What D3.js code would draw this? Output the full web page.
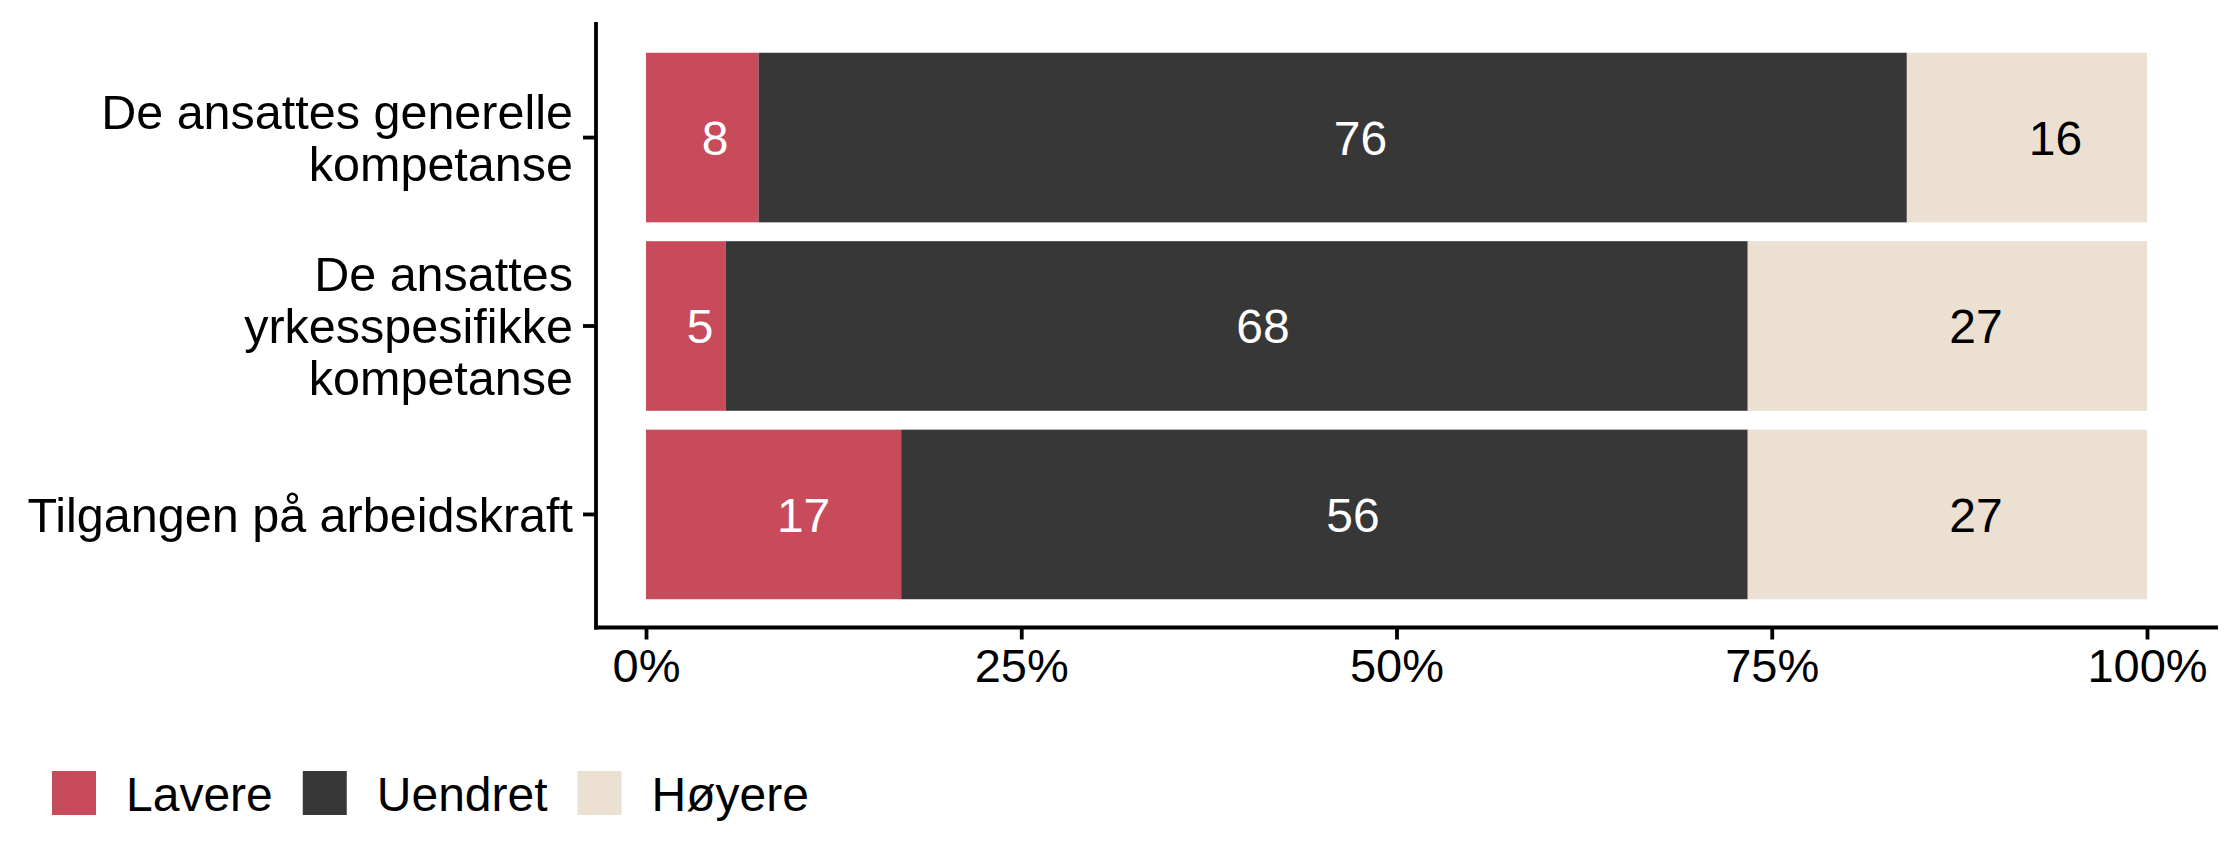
<!DOCTYPE html>
<html>
<head>
<meta charset="utf-8">
<script src="https://cdn.jsdelivr.net/npm/d3@7"></script>
<style>
  html, body { margin: 0; padding: 0; background: #ffffff; }
  svg { display: block; font-family: "Liberation Sans", Arial, Helvetica, sans-serif; }
</style>
</head>
<body>
<svg id="chart" width="2240" height="867"></svg>
<script>
// ---- Data ----
const categories = [
  "De ansattes generelle kompetanse",
  "De ansattes yrkesspesifikke kompetanse",
  "Tilgangen på arbeidskraft"
];
const categoryLines = [
  ["De ansattes generelle", "kompetanse"],
  ["De ansattes", "yrkesspesifikke", "kompetanse"],
  ["Tilgangen på arbeidskraft"]
];
const seriesNames = ["Lavere", "Uendret", "Høyere"];
const lavere  = [7.5, 5.3, 17.0];
const uendret = [76.5, 68.1, 56.4];
const hoyere  = [16.0, 26.6, 26.6];
const lavereLabels  = ["8", "5", "17"];
const uendretLabels = ["76", "68", "56"];
const hoyereLabels  = ["16", "27", "27"];
// label positions (percent)
const lavereLabelPos  = [4.6, 3.6, 10.5];
const uendretLabelPos = [47.6, 41.1, 47.1];
const hoyereLabelPos  = [93.9, 88.6, 88.6];
const xTicks = [0, 25, 50, 75, 100];
const colors = ["#C84B5B", "#373737", "#EBE0D1"];
const labelColors = ["#ffffff", "#ffffff", "#000000"];

// ---- Layout ----
const svg = d3.select("#chart");
const panel = { left: 596, right: 2218, top: 24.5, bottom: 627.5 };

const x = d3.scaleLinear().domain([0, 100]).range([646, 2147]);
const y = d3.scaleBand().domain(categories)
  .range([panel.top, panel.bottom])
  .paddingInner(0.1).paddingOuter(0.15);

const seriesVals = [lavere, uendret, hoyere];
const seriesLabels = [lavereLabels, uendretLabels, hoyereLabels];
const seriesLabelPos = [lavereLabelPos, uendretLabelPos, hoyereLabelPos];

// stacked rows
const rows = categories.map((c, i) => {
  let acc = 0;
  return seriesNames.map((s, k) => {
    const v = seriesVals[k][i];
    const seg = { cat: c, k, x0: acc, x1: acc + v, label: seriesLabels[k][i], lp: seriesLabelPos[k][i] };
    acc += v;
    return seg;
  });
}).flat();

svg.append("g").selectAll("rect").data(rows).join("rect")
  .attr("x", d => x(d.x0))
  .attr("width", d => x(d.x1) - x(d.x0))
  .attr("y", d => y(d.cat))
  .attr("height", y.bandwidth())
  .attr("fill", d => colors[d.k]);

svg.append("g").selectAll("text").data(rows).join("text")
  .attr("x", d => x(d.lp))
  .attr("y", d => y(d.cat) + y.bandwidth() / 2)
  .attr("dy", "0.36em")
  .attr("text-anchor", "middle")
  .attr("font-size", 48)
  .attr("fill", d => labelColors[d.k])
  .text(d => d.label);

// ---- Axes ----
const axisW = 3.8;
// x axis
const gx = svg.append("g").attr("transform", `translate(0,${panel.bottom})`)
  .call(d3.axisBottom(x).tickValues(xTicks).tickFormat(d => d + "%").tickSize(12).tickPadding(9));
gx.select(".domain").remove();
gx.selectAll(".tick line").attr("stroke", "#000").attr("stroke-width", axisW);
gx.selectAll(".tick text").attr("font-size", 47).attr("fill", "#000")
  .attr("font-family", "'Liberation Sans', Arial, sans-serif");
svg.append("line")
  .attr("x1", panel.left - axisW / 2).attr("x2", panel.right)
  .attr("y1", panel.bottom).attr("y2", panel.bottom)
  .attr("stroke", "#000").attr("stroke-width", axisW);

// y axis
const gy = svg.append("g").attr("transform", `translate(${panel.left},0)`)
  .call(d3.axisLeft(y).tickSize(13).tickFormat(""));
gy.select(".domain").remove();
gy.selectAll(".tick line").attr("stroke", "#000").attr("stroke-width", axisW);
svg.append("line")
  .attr("x1", panel.left).attr("x2", panel.left)
  .attr("y1", 22).attr("y2", panel.bottom + axisW / 2)
  .attr("stroke", "#000").attr("stroke-width", axisW);

// y labels (multi-line)
const yFont = 48.5;
const lineH = 52;
const capH = yFont * 0.716;
categories.forEach((c, i) => {
  const lines = categoryLines[i];
  const cy = y(c) + y.bandwidth() / 2;
  const blockH = (lines.length - 1) * lineH + capH;
  const firstBase = cy - blockH / 2 + capH;
  const t = svg.append("text")
    .attr("text-anchor", "end")
    .attr("font-size", yFont)
    .attr("fill", "#000");
  lines.forEach((ln, j) => {
    t.append("tspan").attr("x", 573).attr("y", firstBase + j * lineH).text(ln);
  });
});

// ---- Legend ----
const legend = svg.append("g");
let lx = 52;
seriesNames.forEach((s, k) => {
  legend.append("rect").attr("x", lx).attr("y", 771).attr("width", 44).attr("height", 44)
    .attr("fill", colors[k]);
  const t = legend.append("text").attr("x", lx + 74).attr("y", 811)
    .attr("font-size", 48).attr("fill", "#000").text(s);
  const w = t.node().getComputedTextLength();
  lx = lx + 74 + w + 30;
});
</script>
</body>
</html>
